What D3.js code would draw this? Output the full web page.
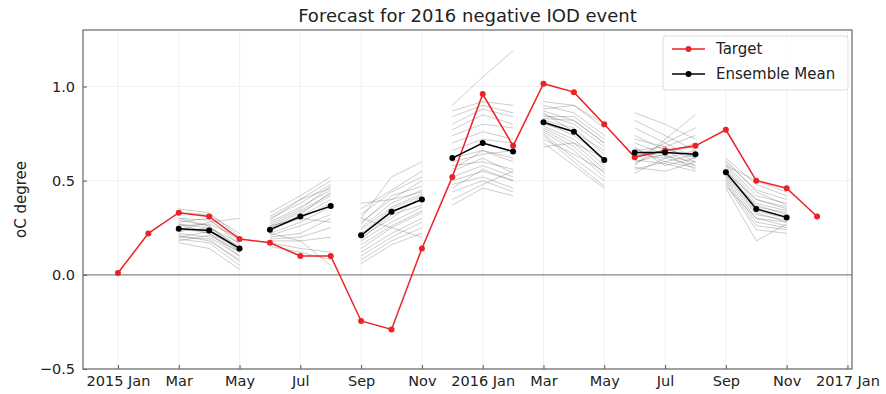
<!DOCTYPE html>
<html>
<head>
<meta charset="utf-8">
<script src="https://cdn.jsdelivr.net/npm/d3@7"></script>
<style>
  html, body { margin: 0; padding: 0; background: #fff; }
  svg { display: block; font-family: "DejaVu Sans", sans-serif; }
</style>
</head>
<body>
<svg id="chart" width="886" height="394"></svg>
<script>
// Month index 0 = 2015 Jan ... 23 = 2016 Dec
const months = d3.range(0, 24);
const target = [0.01, 0.22, 0.33, 0.31, 0.19, 0.17, 0.10, 0.10, -0.245, -0.29, 0.14, 0.52,
                0.96, 0.685, 1.015, 0.97, 0.80, 0.625, 0.66, 0.685, 0.77, 0.50, 0.46, 0.31];

// Start month of each 3-month forecast window
const forecastStarts = [2, 5, 8, 11, 14, 17, 20];

// Ensemble mean for each forecast window
const ensembleMean = [
  [0.245, 0.235, 0.14],
  [0.24, 0.31, 0.365],
  [0.21, 0.335, 0.40],
  [0.62, 0.70, 0.655],
  [0.81, 0.76, 0.61],
  [0.65, 0.65, 0.64],
  [0.545, 0.35, 0.305]
];

// Individual ensemble members, one list per forecast window
const members1 = [[0.35,0.33,0.20],[0.33,0.32,0.22],[0.30,0.29,0.18],[0.28,0.30,0.16],[0.27,0.25,0.15],
  [0.26,0.27,0.20],[0.25,0.22,0.12],[0.24,0.24,0.14],[0.23,0.25,0.17],[0.22,0.20,0.10],[0.21,0.18,0.08],
  [0.20,0.23,0.13],[0.19,0.17,0.05],[0.18,0.21,0.12],[0.17,0.14,0.03],[0.30,0.26,0.14],[0.27,0.22,0.10],
  [0.24,0.28,0.30],[0.20,0.19,0.07],[0.29,0.26,0.12]];
const members2 = [[0.33,0.42,0.52],[0.31,0.40,0.50],[0.30,0.38,0.48],[0.29,0.40,0.46],[0.28,0.36,0.45],
  [0.27,0.35,0.47],[0.26,0.34,0.43],[0.25,0.33,0.42],[0.25,0.31,0.40],[0.24,0.30,0.38],[0.23,0.32,0.44],
  [0.22,0.28,0.36],[0.21,0.26,0.32],[0.20,0.22,0.30],[0.19,0.20,0.25],[0.18,0.18,0.20],[0.17,0.14,0.12],
  [0.15,0.12,0.08],[0.22,0.18,0.05],[0.26,0.30,0.28]];
const members3 = [[0.30,0.52,0.60],[0.35,0.45,0.55],[0.32,0.44,0.52],[0.28,0.40,0.50],[0.27,0.42,0.47],
  [0.25,0.38,0.45],[0.24,0.36,0.43],[0.22,0.35,0.42],[0.21,0.33,0.40],[0.20,0.30,0.42],[0.19,0.32,0.37],
  [0.18,0.28,0.36],[0.16,0.26,0.34],[0.14,0.25,0.33],[0.12,0.22,0.30],[0.10,0.20,0.28],[0.08,0.18,0.25],
  [0.06,0.16,0.22],[0.30,0.25,0.20],[0.38,0.40,0.44]];
const members4 = [[0.90,1.05,1.19],[0.87,0.92,0.90],[0.84,0.90,0.86],[0.80,0.88,0.84],[0.77,0.85,0.80],
  [0.74,0.80,0.78],[0.70,0.76,0.72],[0.66,0.72,0.70],[0.62,0.66,0.62],[0.60,0.64,0.66],[0.58,0.60,0.56],
  [0.55,0.62,0.54],[0.52,0.58,0.52],[0.50,0.55,0.50],[0.48,0.52,0.46],[0.46,0.56,0.50],[0.44,0.50,0.44],
  [0.40,0.48,0.55],[0.37,0.46,0.42],[0.56,0.66,0.60]];
const members5 = [[0.92,0.90,0.78],[0.90,0.86,0.74],[0.88,0.90,0.80],[0.87,0.82,0.70],[0.85,0.80,0.68],
  [0.84,0.84,0.72],[0.82,0.78,0.64],[0.81,0.74,0.62],[0.80,0.76,0.60],[0.79,0.72,0.58],[0.78,0.70,0.56],
  [0.77,0.68,0.54],[0.76,0.66,0.52],[0.75,0.62,0.50],[0.74,0.60,0.47],[0.72,0.64,0.55],[0.70,0.58,0.46],
  [0.68,0.70,0.62],[0.86,0.76,0.66],[0.83,0.82,0.70]];
const members6 = [[0.86,0.80,0.72],[0.82,0.74,0.66],[0.78,0.70,0.62],[0.58,0.72,0.85],[0.62,0.70,0.78],
  [0.74,0.66,0.58],[0.70,0.64,0.56],[0.66,0.68,0.60],[0.64,0.62,0.66],[0.60,0.64,0.70],[0.56,0.60,0.64],
  [0.54,0.62,0.58],[0.68,0.58,0.62],[0.63,0.66,0.68],[0.61,0.59,0.55],[0.65,0.63,0.60],[0.59,0.67,0.62],
  [0.57,0.55,0.60],[0.72,0.68,0.74],[0.67,0.60,0.57]];
const members7 = [[0.62,0.48,0.42],[0.60,0.45,0.40],[0.59,0.42,0.38],[0.58,0.40,0.36],[0.57,0.38,0.34],
  [0.56,0.36,0.33],[0.55,0.35,0.31],[0.54,0.34,0.30],[0.53,0.33,0.28],[0.52,0.32,0.29],[0.51,0.30,0.26],
  [0.50,0.28,0.25],[0.49,0.26,0.24],[0.48,0.24,0.22],[0.46,0.18,0.27],[0.58,0.50,0.44],[0.55,0.40,0.35],
  [0.53,0.37,0.32],[0.61,0.44,0.37],[0.47,0.30,0.28]];
const ensembleMembers = [members1, members2, members3, members4, members5, members6, members7];

const xTickMonths = [0, 2, 4, 6, 8, 10, 12, 14, 16, 18, 20, 22, 24];
const xTickLabels = ["2015 Jan", "Mar", "May", "Jul", "Sep", "Nov", "2016 Jan",
                     "Mar", "May", "Jul", "Sep", "Nov", "2017 Jan"];
const yTicks = [-0.5, 0.0, 0.5, 1.0];

const titleText = "Forecast for 2016 negative IOD event";
const yLabelText = "oC degree";
const legendLabels = ["Target", "Ensemble Mean"];

const RED = "#ec2226";
const margin = { left: 83, right: 34, top: 30, bottom: 25 };
const W = 886, H = 394;
const svg = d3.select("#chart");

const x = d3.scaleLinear().domain([-1.15, 24.15]).range([margin.left, W - margin.right]);
const y = d3.scaleLinear().domain([-0.5, 1.3]).range([H - margin.bottom, margin.top]);

const pw = W - margin.left - margin.right, ph = H - margin.top - margin.bottom;

// Grid
const grid = svg.append("g");
grid.selectAll(".gx").data(xTickMonths).join("line")
  .attr("x1", d => x(d)).attr("x2", d => x(d))
  .attr("y1", margin.top).attr("y2", H - margin.bottom)
  .attr("stroke", "#eeeeee").attr("stroke-width", 0.8);
grid.selectAll(".gy").data(yTicks).join("line")
  .attr("x1", margin.left).attr("x2", W - margin.right)
  .attr("y1", d => y(d)).attr("y2", d => y(d))
  .attr("stroke", "#eeeeee").attr("stroke-width", 0.8);

// Zero line
svg.append("line")
  .attr("x1", margin.left).attr("x2", W - margin.right)
  .attr("y1", y(0)).attr("y2", y(0))
  .attr("stroke", "#8a8a8a").attr("stroke-width", 1.4);

const line = d3.line().x(d => x(d[0])).y(d => y(d[1]));

// Ensemble members
const gm = svg.append("g");
ensembleMembers.forEach((set, i) => {
  const s = forecastStarts[i];
  set.forEach(vals => {
    gm.append("path")
      .attr("d", line(vals.map((v, k) => [s + k, v])))
      .attr("fill", "none").attr("stroke", "#555")
      .attr("stroke-opacity", 0.33).attr("stroke-width", 0.9);
  });
});

// Target series
const tPts = months.map((m, i) => [m, target[i]]);
svg.append("path").attr("d", line(tPts))
  .attr("fill", "none").attr("stroke", RED).attr("stroke-width", 1.5);
svg.append("g").selectAll("circle").data(tPts).join("circle")
  .attr("cx", d => x(d[0])).attr("cy", d => y(d[1])).attr("r", 3)
  .attr("fill", RED);

// Ensemble mean per window
ensembleMean.forEach((vals, i) => {
  const pts = vals.map((v, k) => [forecastStarts[i] + k, v]);
  svg.append("path").attr("d", line(pts))
    .attr("fill", "none").attr("stroke", "#000").attr("stroke-width", 1.5);
  svg.append("g").selectAll("circle").data(pts).join("circle")
    .attr("cx", d => x(d[0])).attr("cy", d => y(d[1])).attr("r", 3)
    .attr("fill", "#000");
});

// Axes (ticks pointing inward)
const fmtY = d => d3.format(".1f")(d).replace("-", "\u2212");
const xAxis = d3.axisBottom(x).tickValues(xTickMonths)
  .tickFormat((d, i) => xTickLabels[i]).tickSizeInner(-4).tickSizeOuter(0).tickPadding(7);
const yAxis = d3.axisLeft(y).tickValues(yTicks)
  .tickFormat(fmtY).tickSizeInner(-4).tickSizeOuter(0).tickPadding(8);

const gx = svg.append("g").attr("transform", `translate(0,${H - margin.bottom})`).call(xAxis);
const gy = svg.append("g").attr("transform", `translate(${margin.left},0)`).call(yAxis);
[gx, gy].forEach(g => {
  g.select(".domain").remove();
  g.selectAll(".tick line").attr("stroke", "#555");
  g.selectAll(".tick text").attr("fill", "#222").attr("font-size", 14.5)
    .attr("font-family", "DejaVu Sans, sans-serif");
});

// Frame
svg.append("rect")
  .attr("x", margin.left).attr("y", margin.top).attr("width", pw).attr("height", ph)
  .attr("fill", "none").attr("stroke", "#666").attr("stroke-width", 1.2);

// Title
svg.append("text").attr("x", margin.left + pw / 2).attr("y", 22)
  .attr("text-anchor", "middle").attr("font-size", 18).attr("fill", "#222")
  .text(titleText);

// Y label
svg.append("text")
  .attr("transform", `translate(26,${margin.top + ph / 2}) rotate(-90)`)
  .attr("text-anchor", "middle").attr("font-size", 15).attr("fill", "#222")
  .text(yLabelText);

// Legend
const lg = svg.append("g").attr("transform", "translate(663,36)");
lg.append("rect").attr("width", 185).attr("height", 54).attr("rx", 3)
  .attr("fill", "#fff").attr("fill-opacity", 0.85)
  .attr("stroke", "#dddddd").attr("stroke-width", 1);
const legendColors = [RED, "#000"];
legendLabels.forEach((lab, i) => {
  const yy = 13 + i * 25;
  lg.append("line").attr("x1", 9).attr("x2", 42).attr("y1", yy).attr("y2", yy)
    .attr("stroke", legendColors[i]).attr("stroke-width", 1.5);
  lg.append("circle").attr("cx", 25.5).attr("cy", yy).attr("r", 3).attr("fill", legendColors[i]);
  lg.append("text").attr("x", 53).attr("y", yy + 5).attr("font-size", 15)
    .attr("fill", "#222").text(lab);
});
</script>
</body>
</html>
